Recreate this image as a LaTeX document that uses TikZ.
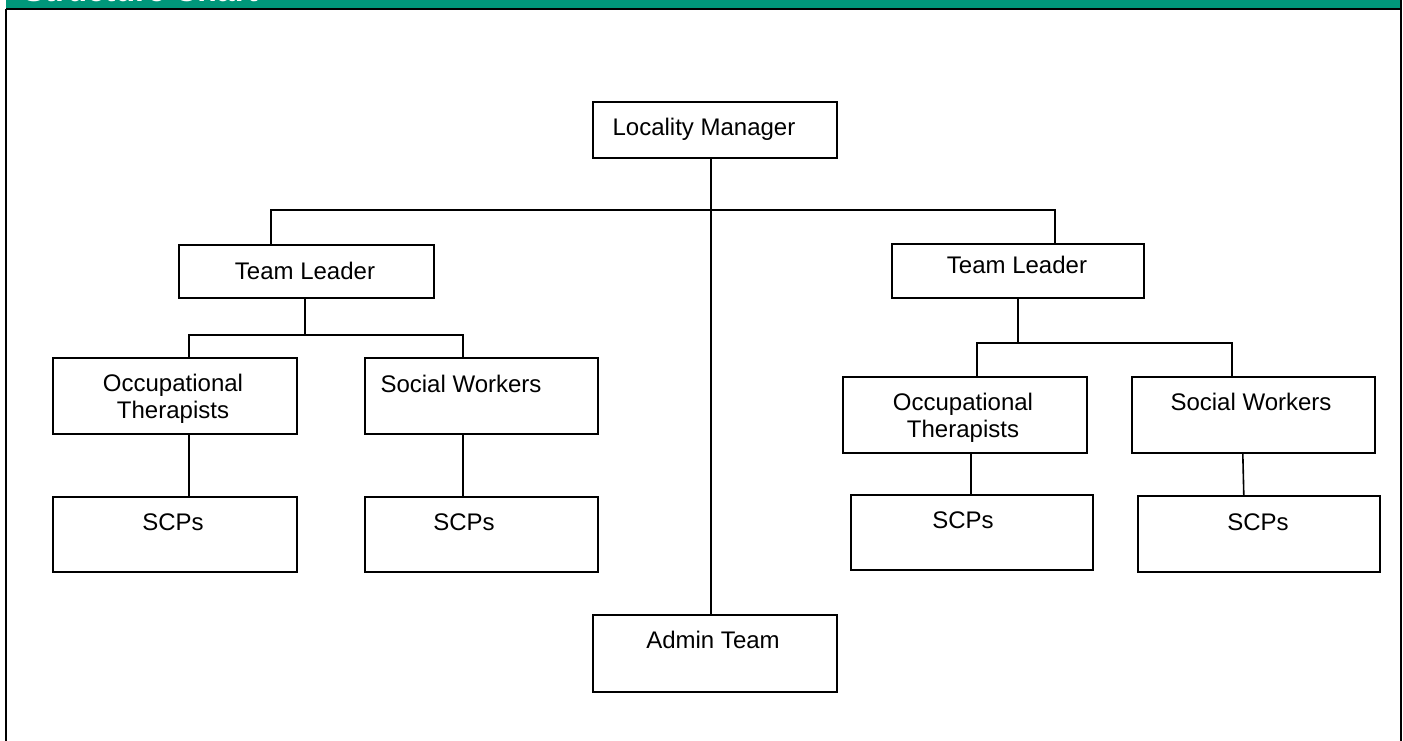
\documentclass[tikz,border=0pt]{standalone}
\usepackage{fontspec}
\setmainfont{Liberation Sans}
\definecolor{hdrgreen}{RGB}{0,151,122}
\begin{document}
\begin{tikzpicture}[x=1pt,y=-1pt,
  box/.style={draw=black,line width=1.6pt,fill=white,inner sep=0pt,anchor=north west},
  txt/.style={font=\fontsize{24}{27}\selectfont,inner sep=0pt,align=center,anchor=base},
  conn/.style={draw=black,line width=1.6pt},
  frame/.style={draw=black,line width=2.4pt}]
\useasboundingbox (0,0) rectangle (1403,740);
% header
\fill[hdrgreen] (6,-2) rectangle (1401,8.5);
\node[font=\fontsize{32}{36}\bfseries\selectfont,text=white,inner sep=0pt,anchor=base west] (hdr) at (23,1) {Structure Chart};
\draw[frame] (6,8.7) -- (1401,8.7);
\coordinate (fl1) at (6,8.7); \coordinate (fl2) at (6,745);
\coordinate (fr1) at (1401,-2); \coordinate (fr2) at (1401,745);
\draw[frame] (fl1) -- (fl2);
\draw[frame] (fr1) -- (fr2);
% boxes
\node[box,minimum width=244pt,minimum height=56pt] (lm) at (592,101) {};
\node[box,minimum width=255pt,minimum height=53pt] (tl1) at (178,244) {};
\node[box,minimum width=252pt,minimum height=54pt] (tl2) at (891,243) {};
\node[box,minimum width=244pt,minimum height=76pt] (ot1) at (52,357) {};
\node[box,minimum width=233pt,minimum height=76pt] (sw1) at (364,357) {};
\node[box,minimum width=244pt,minimum height=75pt] (scp1) at (52,496) {};
\node[box,minimum width=233pt,minimum height=75pt] (scp2) at (364,496) {};
\node[box,minimum width=244pt,minimum height=76pt] (ot2) at (842,376) {};
\node[box,minimum width=243pt,minimum height=76pt] (sw2) at (1131,376) {};
\node[box,minimum width=242pt,minimum height=75pt] (scp3) at (850,494) {};
\node[box,minimum width=242pt,minimum height=76pt] (scp4) at (1137,495) {};
\node[box,minimum width=244pt,minimum height=77pt] (admin) at (592,614) {};
% texts
\node[txt] (lmt) at (704,135.5) {Locality Manager};
\node[txt] (tl1t) at (305,279.5) {Team Leader};
\node[txt] (tl2t) at (1017,273.5) {Team Leader};
\node[txt] (ot1t) at (173,418.5) {Occupational\\Therapists};
\node[txt] (sw1t) at (461,392.5) {Social Workers};
\node[txt] (scp1t) at (173,530.5) {SCPs};
\node[txt] (scp2t) at (464,530.5) {SCPs};
\node[txt] (ot2t) at (963,437.5) {Occupational\\Therapists};
\node[txt] (sw2t) at (1251,410.5) {Social Workers};
\node[txt] (scp3t) at (963,528.5) {SCPs};
\node[txt] (scp4t) at (1258,530.5) {SCPs};
\node[txt] (admint) at (713,648.5) {Admin Team};
% junction coordinates
\coordinate (topbarL) at (271,210);
\coordinate (topbarR) at (1055,210);
\coordinate (lbarL) at (189,335);
\coordinate (lbarR) at (463,335);
\coordinate (rbarL) at (977,343);
\coordinate (rbarR) at (1232,343);
% connectors
\draw[conn] ([xshift=-4pt]lm.south) -- ([xshift=-4pt]admin.north);
\draw[conn] (tl1.north -| topbarL) -- (topbarL) -- (topbarR) -- (tl2.north -| topbarR);
\draw[conn] ([xshift=-1.5pt]tl1.south) -- ([xshift=-1.5pt]tl1.south |- lbarL);
\draw[conn] (ot1.north -| lbarL) -- (lbarL) -- (lbarR) -- (sw1.north -| lbarR);
\draw[conn] (ot1.south -| lbarL) -- (scp1.north -| lbarL);
\draw[conn] (sw1.south -| lbarR) -- (scp2.north -| lbarR);
\draw[conn] (tl2.south) -- (tl2.south |- rbarL);
\draw[conn] (ot2.north -| rbarL) -- (rbarL) -- (rbarR) -- (sw2.north -| rbarR);
\draw[conn] ([xshift=-1pt]ot2.south -| scp3.north) -- ([xshift=-1pt]scp3.north);
\draw[conn] ([xshift=-10.5pt]sw2.south) -- ([xshift=-9.5pt]sw2.south |- scp4.north);
\end{tikzpicture}
\end{document}
